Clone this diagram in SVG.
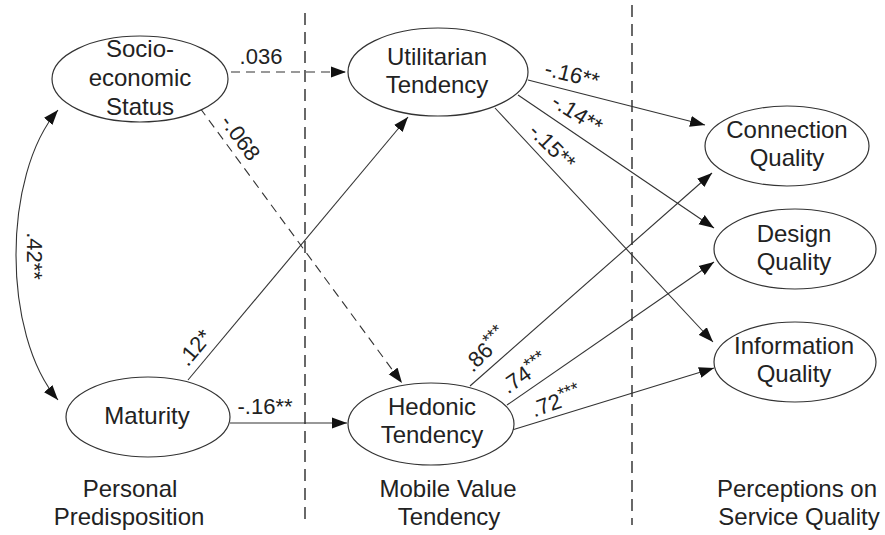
<svg xmlns="http://www.w3.org/2000/svg" width="885" height="535" viewBox="0 0 885 535">
<defs>
<marker id="arr" markerUnits="userSpaceOnUse" markerWidth="16" markerHeight="12" refX="15" refY="6" orient="auto-start-reverse" viewBox="0 0 16 12">
<path d="M0,0.5 L15,6 L0,11.5 z" fill="#111"/>
</marker>
<style>
.node ellipse{fill:#fff;stroke:#333;stroke-width:1.2}
text{font-family:"Liberation Sans",Arial,sans-serif;fill:#222}
.nt{font-size:24px;text-anchor:middle}
.lb{font-size:22px;text-anchor:middle}
.edge{fill:none;stroke:#333;stroke-width:1.1}
.dash{stroke-dasharray:9 6}
.div{stroke:#444;stroke-width:1.6;stroke-dasharray:12 7;fill:none}
.sup{font-size:18px}
</style>
</defs>
<rect width="885" height="535" fill="#fff"/>
<g id="dividers">
<line class="div" x1="305" y1="13" x2="305" y2="525"/>
<line class="div" x1="632" y1="5" x2="632" y2="525"/>
</g>
<g id="connectors">
<path class="edge dash" d="M231 72 L346 72" marker-end="url(#arr)"/>
<path class="edge dash" d="M200 108 L402 383" marker-end="url(#arr)"/>
<path class="edge" d="M188 380 L408 117" marker-end="url(#arr)"/>
<path class="edge" d="M230 423 L347 423" marker-end="url(#arr)"/>
<path class="edge" d="M528 80 L705 125" marker-end="url(#arr)"/>
<path class="edge" d="M518 95 L714 228" marker-end="url(#arr)"/>
<path class="edge" d="M495 108 L713 342" marker-end="url(#arr)"/>
<path class="edge" d="M470 386 L712 173" marker-end="url(#arr)"/>
<path class="edge" d="M507 405 L714 262" marker-end="url(#arr)"/>
<path class="edge" d="M512 430 L714 368" marker-end="url(#arr)"/>
<path class="edge" d="M58 110 C 2 175, 2 335, 58 400" marker-start="url(#arr)" marker-end="url(#arr)"/>
</g>
<g id="edge-labels">
<text class="lb" x="261" y="64">.036</text>
<text class="lb" transform="translate(240,138) rotate(54)" y="7">-.068</text>
<text class="lb" transform="translate(195,348) rotate(-50)" y="7">.12*</text>
<text class="lb" x="265" y="414">-.16**</text>
<text class="lb" transform="translate(572,75) rotate(14)" y="7">-.16**</text>
<text class="lb" transform="translate(577,114) rotate(32)" y="7">-.14**</text>
<text class="lb" transform="translate(552,147) rotate(45)" y="7">-.15**</text>
<text class="lb" transform="translate(34,256) rotate(90)" y="7">.42**</text>
<text class="lb" transform="translate(486,350) rotate(-45)" y="7">.86<tspan class="sup" dy="-7">***</tspan></text>
<text class="lb" transform="translate(525,374) rotate(-35)" y="7">.74<tspan class="sup" dy="-7">***</tspan></text>
<text class="lb" transform="translate(556,402) rotate(-20)" y="7">.72<tspan class="sup" dy="-7">***</tspan></text>
</g>
<g id="ses" class="node">
<ellipse cx="140" cy="79" rx="88" ry="43"/>
<text class="nt" x="140" y="57">Socio-</text>
<text class="nt" x="140" y="86">economic</text>
<text class="nt" x="140" y="115">Status</text>
</g>
<g id="maturity" class="node">
<ellipse cx="148" cy="417" rx="82" ry="40"/>
<text class="nt" x="147" y="424">Maturity</text>
</g>
<g id="utilitarian" class="node">
<ellipse cx="438" cy="72" rx="90" ry="44"/>
<text class="nt" x="437" y="65">Utilitarian</text>
<text class="nt" x="437" y="93">Tendency</text>
</g>
<g id="hedonic" class="node">
<ellipse cx="431" cy="424" rx="83" ry="41"/>
<text class="nt" x="432" y="415">Hedonic</text>
<text class="nt" x="432" y="443">Tendency</text>
</g>
<g id="connection" class="node">
<ellipse cx="787" cy="146" rx="82" ry="40"/>
<text class="nt" x="787" y="138">Connection</text>
<text class="nt" x="787" y="166">Quality</text>
</g>
<g id="design" class="node">
<ellipse cx="795" cy="249" rx="81" ry="40"/>
<text class="nt" x="794" y="242">Design</text>
<text class="nt" x="794" y="270">Quality</text>
</g>
<g id="information" class="node">
<ellipse cx="795" cy="362" rx="81" ry="40"/>
<text class="nt" x="794" y="354">Information</text>
<text class="nt" x="794" y="382">Quality</text>
</g>
<g id="section-labels">
<text class="nt" x="130" y="497">Personal</text>
<text class="nt" x="129" y="525">Predisposition</text>
<text class="nt" x="448" y="497">Mobile Value</text>
<text class="nt" x="449" y="525">Tendency</text>
<text class="nt" x="797" y="497">Perceptions on</text>
<text class="nt" x="799" y="525">Service Quality</text>
</g>
</svg>
